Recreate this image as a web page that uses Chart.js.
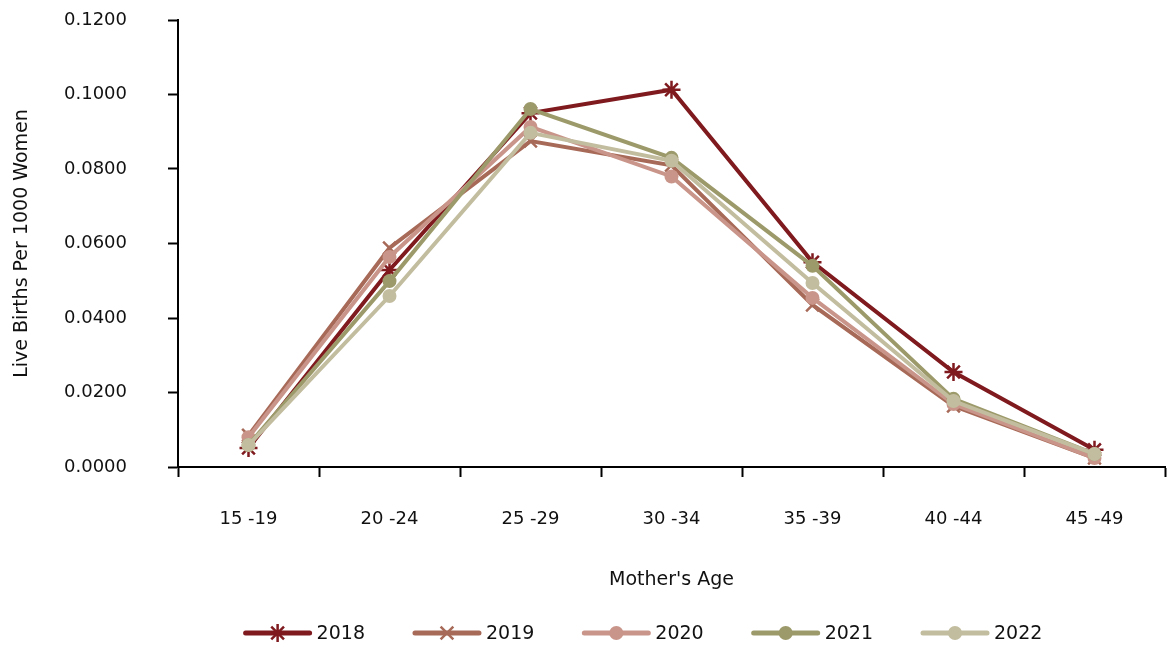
<!DOCTYPE html>
<html>
<head>
<meta charset="utf-8">
<script src="https://cdn.jsdelivr.net/npm/chart.js@4/dist/chart.umd.min.js"></script>
<style>
  html, body { margin: 0; padding: 0; background: #fff; }
  #wrap { width: 1167px; height: 645px; }
</style>
</head>
<body>
<div id="wrap"><canvas id="births-chart"></canvas></div>
<script>
// Data
const ageGroups = ['15 -19', '20 -24', '25 -29', '30 -34', '35 -39', '40 -44', '45 -49'];
const years = ['2018', '2019', '2020', '2021', '2022'];
const rates2018 = [0.0051, 0.0529, 0.0950, 0.1013, 0.0550, 0.0255, 0.0046];
const rates2019 = [0.0085, 0.0588, 0.0875, 0.0810, 0.0435, 0.0164, 0.0024];
const rates2020 = [0.0080, 0.0564, 0.0913, 0.0780, 0.0454, 0.0169, 0.0024];
const rates2021 = [0.0059, 0.0499, 0.0961, 0.0830, 0.0540, 0.0183, 0.0035];
const rates2022 = [0.0059, 0.0459, 0.0897, 0.0822, 0.0494, 0.0177, 0.0035];
const yTicks = [0, 0.02, 0.04, 0.06, 0.08, 0.10, 0.12];

const colors = ['#7f1a1f', '#a86a58', '#c9958a', '#9c9a6a', '#c2bd9f'];
const markers = ['star', 'crossRot', 'circle', 'circle', 'circle'];
const FONT = '"DejaVu Sans", sans-serif';
const FONT_SIZE = 18;
const TITLE_SIZE = 19;

const series = [rates2018, rates2019, rates2020, rates2021, rates2022];

const datasets = years.map((year, i) => ({
    label: year,
    data: series[i],
    borderColor: colors[i],
    backgroundColor: colors[i],
    borderWidth: 4,
    tension: 0,
    pointStyle: markers[i],
    pointRadius: markers[i] === 'circle' ? 7 : 9,
    pointBorderWidth: markers[i] === 'circle' ? 0 : 2.5,
    pointHoverRadius: 7,
    order: years.length - i
}));

// legend with a line + marker swatch, like the original
const lineLegend = {
    id: 'lineLegend',
    afterDraw(chart) {
        const ctx = chart.ctx;
        const sets = chart.data.datasets;
        ctx.save();
        ctx.font = TITLE_SIZE + 'px ' + FONT;
        const lineW = 68, textGap = 5, itemGap = 48;
        const widths = sets.map(ds => lineW + textGap + ctx.measureText(ds.label).width);
        const total = widths.reduce((a, b) => a + b, 0) + itemGap * (sets.length - 1);
        let x = 643 - total / 2;
        const y = 633;
        sets.forEach((ds, i) => {
            ctx.strokeStyle = ds.borderColor;
            ctx.fillStyle = ds.borderColor;
            ctx.lineWidth = 5;
            ctx.lineCap = 'round';
            ctx.beginPath();
            ctx.moveTo(x + 2, y);
            ctx.lineTo(x + lineW - 2, y);
            ctx.stroke();
            const cx = x + lineW / 2;
            if (ds.pointStyle === 'circle') {
                ctx.beginPath();
                ctx.arc(cx, y, 7, 0, Math.PI * 2);
                ctx.fill();
            } else {
                const r = 9;
                ctx.lineWidth = 2.5;
                ctx.lineCap = 'butt';
                ctx.beginPath();
                const d = r * Math.SQRT1_2;
                ctx.moveTo(cx - d, y - d); ctx.lineTo(cx + d, y + d);
                ctx.moveTo(cx - d, y + d); ctx.lineTo(cx + d, y - d);
                if (ds.pointStyle === 'star') {
                    ctx.moveTo(cx, y - r); ctx.lineTo(cx, y + r);
                }
                ctx.stroke();
            }
            ctx.fillStyle = '#111';
            ctx.textBaseline = 'middle';
            ctx.textAlign = 'left';
            ctx.fillText(ds.label, x + lineW + textGap, y + 1);
            x += widths[i] + itemGap;
        });
        ctx.restore();
    }
};

const ctx = document.getElementById('births-chart').getContext('2d');
new Chart(ctx, {
    type: 'line',
    data: { labels: ageGroups, datasets: datasets },
    options: {
        responsive: true,
        maintainAspectRatio: false,
        animation: false,
        layout: { autoPadding: false, padding: { left: 0, right: 2, top: 20, bottom: 54 } },
        plugins: {
            legend: { display: false },
            tooltip: { enabled: false }
        },
        scales: {
            x: {
                offset: true,
                afterFit(scale) {
                    scale.paddingLeft = 0;
                    scale.paddingRight = 0;
                    scale.height = 124;
                },
                grid: {
                    offset: true,
                    drawOnChartArea: false,
                    drawTicks: true,
                    tickLength: 10,
                    tickWidth: 2,
                    tickColor: '#000'
                },
                border: { color: '#000', width: 2 },
                ticks: { color: '#111', font: { family: FONT, size: FONT_SIZE }, padding: 32, maxRotation: 0 },
                title: {
                    display: true,
                    text: "Mother's Age",
                    color: '#111',
                    font: { family: FONT, size: TITLE_SIZE },
                    padding: { top: 10, bottom: 0 }
                }
            },
            y: {
                min: 0,
                max: 0.12,
                afterBuildTicks(axis) {
                    axis.ticks = yTicks.map(v => ({ value: v }));
                },
                afterFit(scale) {
                    scale.paddingTop = 0;
                    scale.paddingBottom = 0;
                    scale.width = 178;
                },
                grid: {
                    drawOnChartArea: false,
                    drawTicks: true,
                    tickLength: 10,
                    tickWidth: 2,
                    tickColor: '#000'
                },
                border: { color: '#000', width: 2 },
                ticks: {
                    color: '#111',
                    font: { family: FONT, size: FONT_SIZE },
                    padding: 41,
                    callback: v => Number(v).toFixed(4)
                },
                title: {
                    display: true,
                    text: 'Live Births Per 1000 Women',
                    color: '#111',
                    font: { family: FONT, size: TITLE_SIZE },
                    padding: { top: 11, bottom: 10 }
                }
            }
        }
    },
    plugins: [lineLegend]
});
</script>
</body>
</html>
